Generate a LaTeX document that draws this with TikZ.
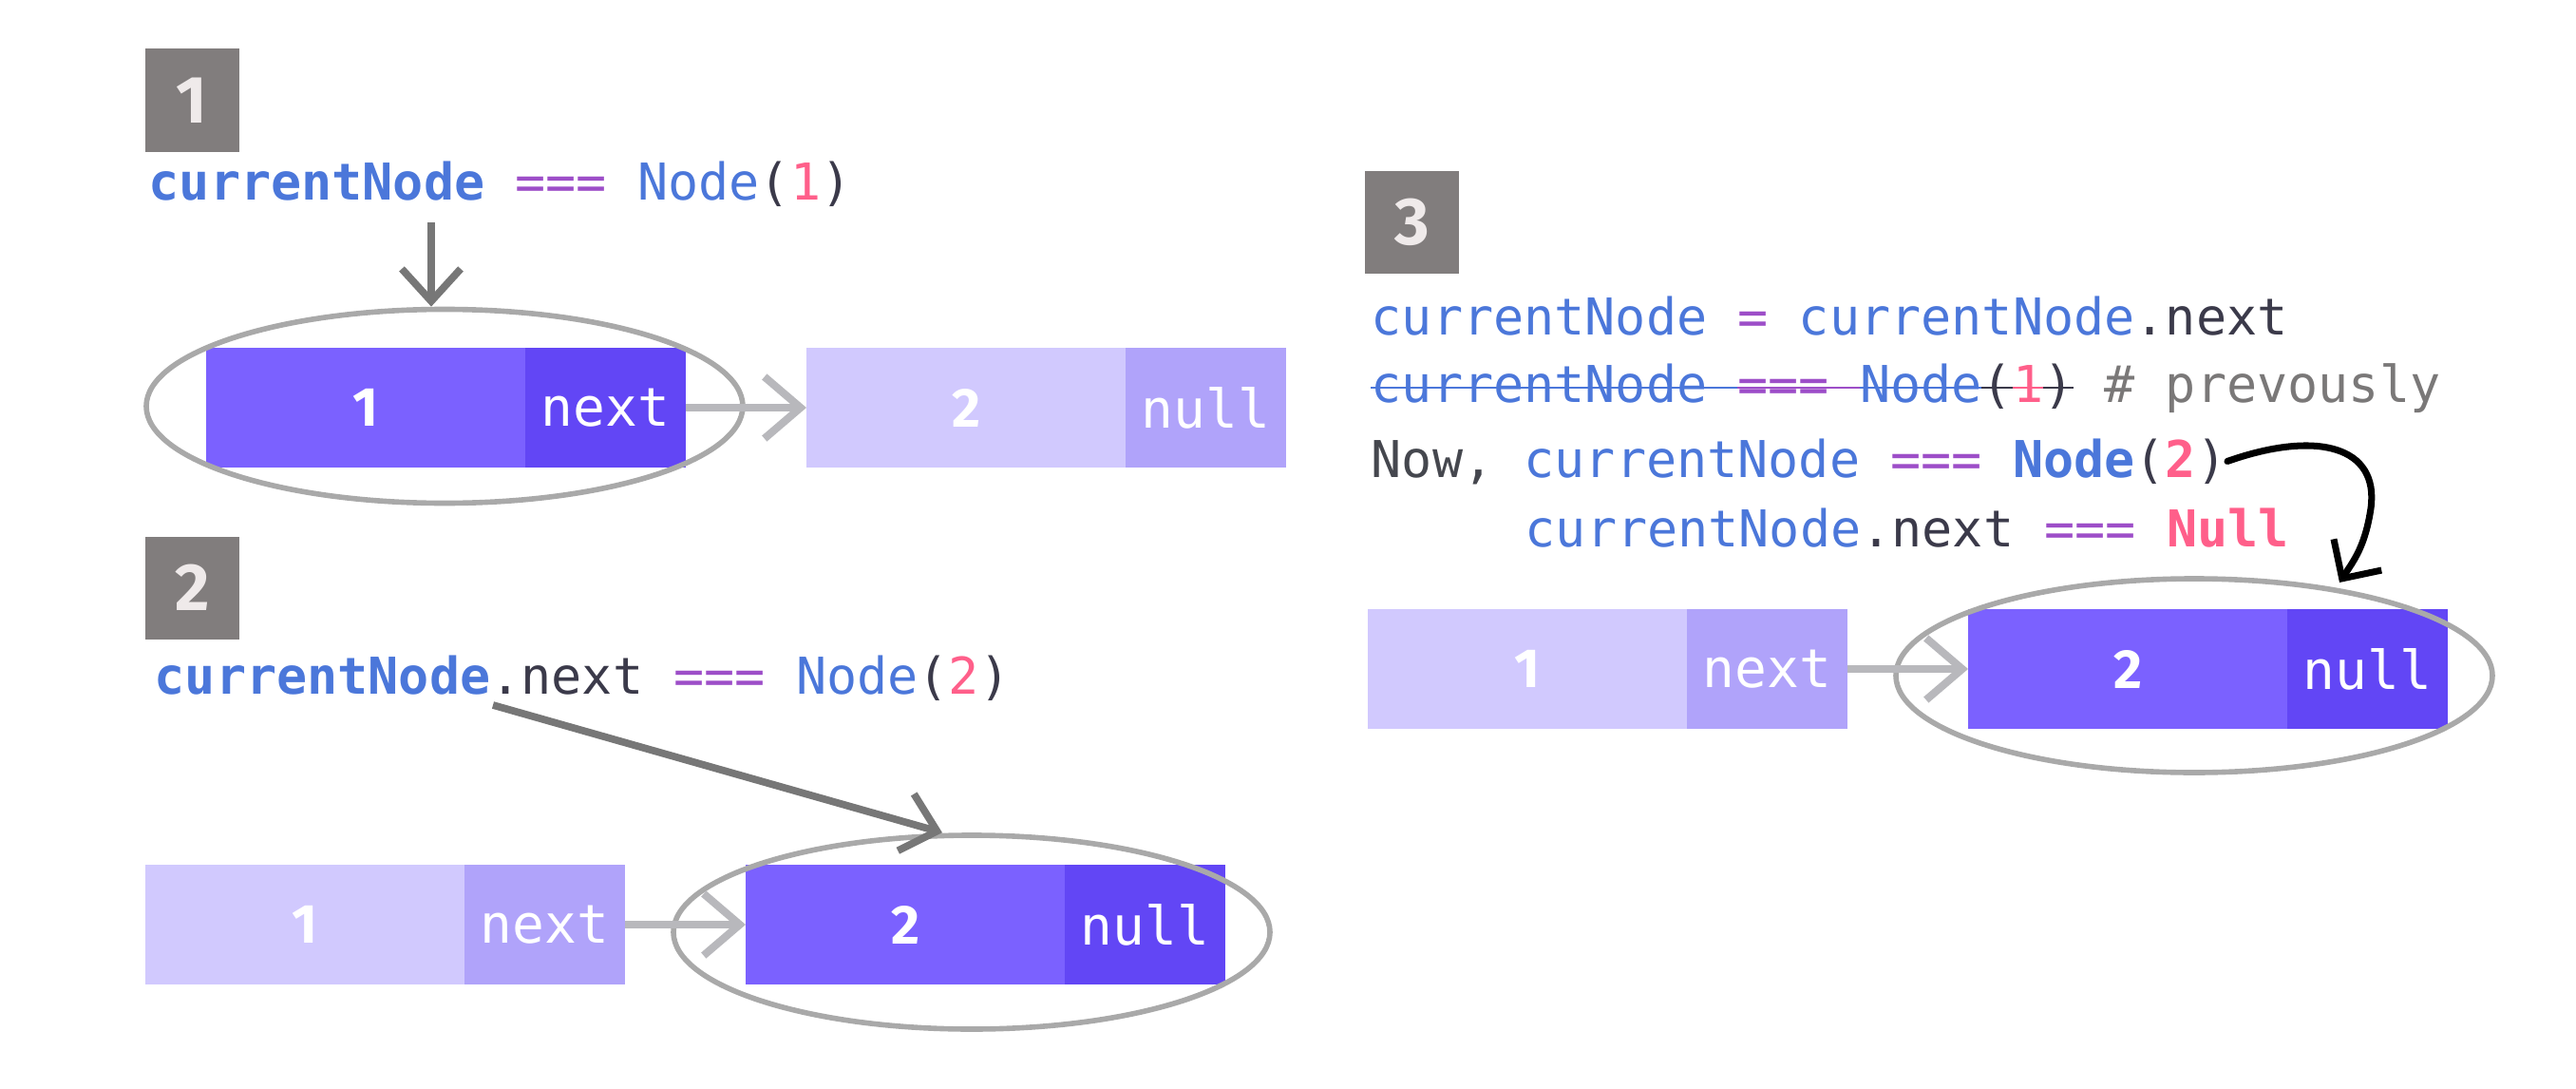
\documentclass[tikz,border=0pt]{standalone}
\usepackage{fontspec}
\setmonofont{DejaVu Sans Mono}
\newfontfamily\digitfont{Fira Sans}
\usetikzlibrary{arrows.meta,positioning,shapes.geometric}

\definecolor{codeblue}{HTML}{4B77DA}
\definecolor{codepurple}{HTML}{9D4EC8}
\definecolor{codepink}{HTML}{FF5F8A}
\definecolor{codedark}{HTML}{3B3A4A}
\definecolor{codegray}{HTML}{7A7878}
\definecolor{nowgray}{HTML}{45474E}
\definecolor{badgegray}{HTML}{817D7D}
\definecolor{badgetext}{HTML}{EFEAEA}
\definecolor{celldark}{HTML}{7B61FF}
\definecolor{nextdark}{HTML}{6246F5}
\definecolor{celllight}{HTML}{D1C9FE}
\definecolor{nextlight}{HTML}{B0A3FA}
\definecolor{ringgray}{HTML}{A9A9A9}
\definecolor{pointgray}{HTML}{777777}
\definecolor{linkgray}{HTML}{B8B8BC}

\begin{document}
\begin{tikzpicture}[
    badge/.style={fill=badgegray, text=badgetext, inner sep=0pt, minimum width=0.99cm, minimum height=1.08cm, font=\digitfont\bfseries\fontsize{20}{20}\selectfont},
    code/.style={anchor=base west, inner sep=0pt, font=\ttfamily\fontsize{15.2}{18}\selectfont},
    cell/.style={inner sep=0pt, outer sep=0pt, minimum height=1.26cm, text=white},
    datacell/.style={cell, minimum width=3.36cm, font=\digitfont\bfseries\fontsize{16.5}{16.5}\selectfont},
    nextcell/.style={cell, minimum width=1.69cm, font=\ttfamily\fontsize{16}{16}\selectfont},
    ring/.style={ellipse, draw=ringgray, line width=1.6pt, inner sep=0pt, minimum width=6.28cm, minimum height=2.04cm},
    pointer/.style={draw=pointgray, line width=2.2pt, -{Straight Barb[length=0.34cm,width=0.62cm]}},
    link/.style={draw=linkgray, line width=2.3pt, -{Straight Barb[length=0.38cm,width=0.65cm]}}
]
    \useasboundingbox (0,0) rectangle (27.12,-11.46);

    % 1st panel
    \node[badge] (badge1) at (2.02,-1.055) {1};
    \node[code] (code1) at (1.56,-2.10) {\textcolor{codeblue}{\bfseries currentNode} \textcolor{codepurple}{===} \textcolor{codeblue}{Node}\textcolor{codedark}{(}\textcolor{codepink}{1}\textcolor{codedark}{)}};
    \node[datacell, fill=celldark, anchor=north west] (one1) at (2.17,-3.66) {1};
    \node[nextcell, fill=nextdark, right=0pt of one1] (one1next) {next};
    \node[datacell, fill=celllight, right=1.27cm of one1next] (two1) {2};
    \node[nextcell, fill=nextlight, right=0pt of two1] (two1null) {null};
    \node[ring] (ring1) at (4.68,-4.275) {};
    \coordinate (from1) at (4.54,-2.34);
    \draw[pointer] (from1) -- (from1 |- ring1.north);
    \draw[link] (one1next.east) -- (two1.west);

    % 2nd panel
    \node[badge] (badge2) at (2.025,-6.185) {2};
    \node[code] (code2) at (1.62,-7.30) {\textcolor{codeblue}{\bfseries currentNode}\textcolor{codedark}{.next} \textcolor{codepurple}{===} \textcolor{codeblue}{Node}\textcolor{codedark}{(}\textcolor{codepink}{2}\textcolor{codedark}{)}};
    \node[datacell, fill=celllight, anchor=north west] (one2) at (1.53,-9.10) {1};
    \node[nextcell, fill=nextlight, right=0pt of one2] (one2next) {next};
    \node[datacell, fill=celldark, right=1.27cm of one2next] (two2) {2};
    \node[nextcell, fill=nextdark, right=0pt of two2] (two2null) {null};
    \node[ring] (ring2) at (10.23,-9.81) {};
    \coordinate (from2) at (5.19,-7.42);
    \draw[pointer] (from2) -- ([xshift=-0.31cm]ring2.north);
    \draw[link] (one2next.east) -- (two2.west);

    % 3rd panel
    \node[badge] (badge3) at (14.865,-2.34) {3};
    \node[code] (line1) at (14.43,-3.52) {\textcolor{codeblue}{currentNode} \textcolor{codepurple}{=} \textcolor{codeblue}{currentNode}\textcolor{codedark}{.next}};
    \node[code] (line2) at (14.43,-4.23) {\textcolor{codeblue}{currentNode} \textcolor{codepurple}{===} \textcolor{codeblue}{Node}\textcolor{codedark}{(}\textcolor{codepink}{1}\textcolor{codedark}{)} \textcolor{codegray}{\# prevously}};
    \node[code] (line3) at (14.43,-5.02) {\textcolor{nowgray}{Now,} \textcolor{codeblue}{currentNode} \textcolor{codepurple}{===} \textcolor{codeblue}{\bfseries Node}\textcolor{codedark}{(}\textcolor{codepink}{\bfseries 2}\textcolor{codedark}{)}};
    \node[code] (line4) at (16.05,-5.75) {\textcolor{codeblue}{currentNode}\textcolor{codedark}{.next} \textcolor{codepurple}{===} \textcolor{codepink}{\bfseries Null}};
    % strike out the old line
    \foreach \a/\b/\c in {0/12/codeblue,12/16/codepurple,16/20/codeblue,20/21/codedark,21/22/codepink,22/23/codedark}{
        \draw[\c, line width=0.7pt] ([xshift=\a*0.3217cm, yshift=0.15cm]line2.base west) -- ([xshift=\b*0.3217cm, yshift=0.15cm]line2.base west);
    }
    \node[datacell, fill=celllight, anchor=north west] (one3) at (14.40,-6.41) {1};
    \node[nextcell, fill=nextlight, right=0pt of one3] (one3next) {next};
    \node[datacell, fill=celldark, right=1.27cm of one3next] (two3) {2};
    \node[nextcell, fill=nextdark, right=0pt of two3] (two3null) {null};
    \node[ring] (ring3) at (23.10,-7.11) {};
    \draw[link] (one3next.east) -- (two3.west);
    \coordinate (tip3) at (24.63,-6.13);
    \draw[black, line width=2pt, line cap=round, -{Straight Barb[length=0.3cm,width=0.6cm]}] (line3.east) .. controls (24.40,-4.52) and (25.05,-4.70) .. (24.96,-5.35) .. controls (24.90,-5.75) and (24.78,-5.90) .. (tip3);
\end{tikzpicture}
\end{document}
